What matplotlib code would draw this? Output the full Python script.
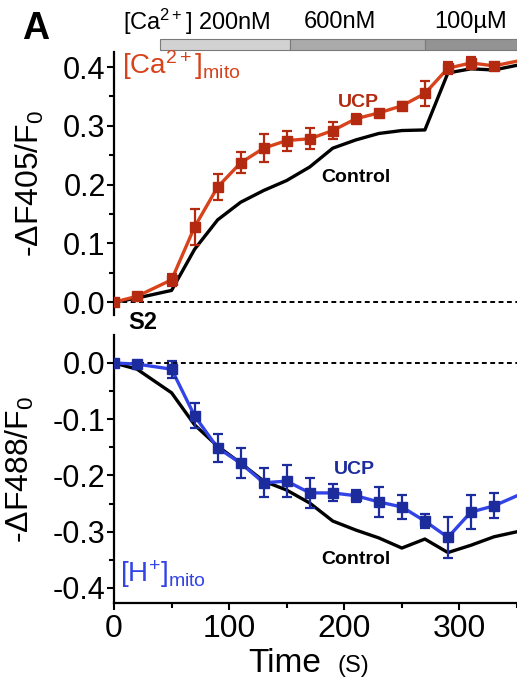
import numpy as np
import matplotlib.pyplot as plt
from matplotlib.ticker import MultipleLocator
from matplotlib.transforms import blended_transform_factory
from matplotlib.patches import Rectangle

plt.rcParams['font.family'] = ['Liberation Sans', 'DejaVu Sans']
plt.rcParams['mathtext.fontset'] = 'custom'
plt.rcParams['mathtext.rm'] = 'Liberation Sans'
plt.rcParams['mathtext.it'] = 'Liberation Sans:italic'
plt.rcParams['mathtext.bf'] = 'Liberation Sans:bold'

# time points (s)
t_ucp = [0, 20, 50, 70, 90, 110, 130, 150, 170, 190, 210, 230, 250, 270, 290, 310, 330]
t_end = 350
t_ctrl = [0, 20, 50, 70, 90, 110, 130, 150, 170, 190, 210, 230, 250, 270, 290, 310, 330, 350]

# mito Ca2+ (F405)
ca_ucp = [0.0, 0.01, 0.038, 0.128, 0.196, 0.237, 0.262, 0.275, 0.278, 0.292, 0.312, 0.322, 0.334, 0.355, 0.398, 0.407, 0.402]
ca_ucp_err = [0.0, 0.005, 0.01, 0.031, 0.022, 0.018, 0.024, 0.017, 0.018, 0.014, 0.008, 0.005, 0.007, 0.021, 0.01, 0.01, 0.005]
ca_ucp_end = 0.41
ca_ctrl = [0.0, 0.007, 0.02, 0.09, 0.14, 0.17, 0.19, 0.207, 0.23, 0.262, 0.276, 0.287, 0.292, 0.293, 0.39, 0.397, 0.395, 0.403]

# mito H+ (F488)
h_ucp = [0.0, -0.002, -0.011, -0.094, -0.151, -0.178, -0.213, -0.21, -0.231, -0.231, -0.236, -0.247, -0.256, -0.281, -0.31, -0.265, -0.254]
h_ucp_err = [0.0, 0.004, 0.015, 0.022, 0.025, 0.026, 0.026, 0.028, 0.027, 0.015, 0.011, 0.027, 0.021, 0.012, 0.036, 0.03, 0.022]
h_ucp_end = -0.236
h_ctrl = [0.0, -0.011, -0.053, -0.11, -0.148, -0.178, -0.21, -0.226, -0.249, -0.281, -0.297, -0.311, -0.329, -0.313, -0.337, -0.324, -0.309, -0.30]

# Ca2+ application bar
ca_steps = [(40, 153, '#d2d2d2'), (153, 270, '#aaaaaa'), (270, 350, '#939393')]

red_line, red_mk = '#d8431c', '#b32a10'
blue_line, blue_mk = '#3344e6', '#1c2c9c'

fig = plt.figure(figsize=(5.17, 6.85), dpi=100)
ax1 = fig.add_axes([0.2205, 0.540, 0.7795, 0.384])
ax2 = fig.add_axes([0.2205, 0.1197, 0.7795, 0.3913])

def style(ax):
    for s in ['top', 'right']:
        ax.spines[s].set_visible(False)
    ax.spines['left'].set_linewidth(1.6)
    ax.spines['bottom'].set_linewidth(1.6)
    ax.yaxis.set_minor_locator(MultipleLocator(0.05))
    ax.tick_params(axis='both', which='major', direction='out', length=5, width=1.5, pad=1)
    ax.tick_params(axis='y', which='major', labelsize=22)
    ax.tick_params(axis='x', which='major', labelsize=23, pad=3)
    ax.tick_params(axis='both', which='minor', direction='out', length=3.5, width=1.5)
    ax.set_xlim(0, 350)
    ax.axhline(0, color='black', ls=(0, (2.5, 1.8)), lw=1.4, zorder=1)

def draw(ax, tc, yc, tu, yu, err, tend, yend, lc, mc):
    ax.plot(tc, yc, color='black', lw=2.4, zorder=2)
    ax.plot(list(tu) + [tend], list(yu) + [yend], color=lc, lw=2.4, zorder=3)
    ax.errorbar(tu, yu, yerr=err, fmt='s', color=mc, ms=6.5, mec=mc,
                ecolor=mc, elinewidth=1.6, capsize=3.8, capthick=1.6, zorder=4)

style(ax1)
style(ax2)
ax1.spines['bottom'].set_visible(False)
ax1.tick_params(axis='x', which='both', bottom=False, labelbottom=False)

draw(ax1, t_ctrl, ca_ctrl, t_ucp, ca_ucp, ca_ucp_err, t_end, ca_ucp_end, red_line, red_mk)
draw(ax2, t_ctrl, h_ctrl, t_ucp, h_ucp, h_ucp_err, t_end, h_ucp_end, blue_line, blue_mk)

ax1.set_ylim(-0.022, 0.4255)
ax1.set_yticks([0.0, 0.1, 0.2, 0.3, 0.4])
ax1.set_yticklabels(['0.0', '0.1', '0.2', '0.3', '0.4'])
ax2.set_ylim(-0.4267, 0.0498)
ax2.set_yticks([0.0, -0.1, -0.2, -0.3, -0.4])
ax2.set_yticklabels(['0.0', '-0.1', '-0.2', '-0.3', '-0.4'])
ax2.set_xticks([0, 100, 200, 300])
ax2.xaxis.set_minor_locator(MultipleLocator(50))

ax1.set_ylabel(r'-$\Delta$F405/F$_0$', fontsize=23, labelpad=12)
ax2.set_ylabel(r'-$\Delta$F488/F$_0$', fontsize=23, labelpad=12)
fig.text(0.48, 0.019, 'Time', fontsize=24, ha='left', va='baseline')
fig.text(0.652, 0.019, '(S)', fontsize=17, ha='left', va='baseline')

# series labels
ax1.text(7, 0.403, r'[Ca$^{2+}$]$_{\mathrm{mito}}$', color=red_line, fontsize=20, va='center')
ax1.text(212, 0.34, 'UCP', color=red_mk, fontsize=14, fontweight='bold', ha='center', va='center')
ax1.text(210, 0.212, 'Control', color='black', fontsize=14, fontweight='bold', ha='center', va='center')
ax2.text(5, -0.375, r'[H$^{+}$]$_{\mathrm{mito}}$', color=blue_line, fontsize=20, va='center')
ax2.text(209, -0.19, 'UCP', color=blue_mk, fontsize=14, fontweight='bold', ha='center', va='center')
ax2.text(210, -0.35, 'Control', color='black', fontsize=14, fontweight='bold', ha='center', va='center')

# Ca2+ bar above the top panel
tr = blended_transform_factory(ax1.transData, ax1.transAxes)
for x0, x1, c in ca_steps:
    ax1.add_patch(Rectangle((x0, 1.008), x1 - x0, 0.04, transform=tr, facecolor=c,
                            edgecolor='#7a7a7a', lw=0.8, clip_on=False))
ax1.text(8, 1.115, r'[Ca$^{2+}$] 200nM', transform=tr, fontsize=17, ha='left', va='center')
ax1.text(196, 1.115, '600nM', transform=tr, fontsize=17, ha='center', va='center')
ax1.text(310, 1.115, '100µM', transform=tr, fontsize=17, ha='center', va='center')

fig.text(0.042, 0.957, 'A', fontsize=27, fontweight='bold', ha='left', va='center')
fig.text(0.248, 0.529, 'S2', fontsize=17, fontweight='bold', ha='left', va='center')

fig.savefig('out.png', dpi=100)
